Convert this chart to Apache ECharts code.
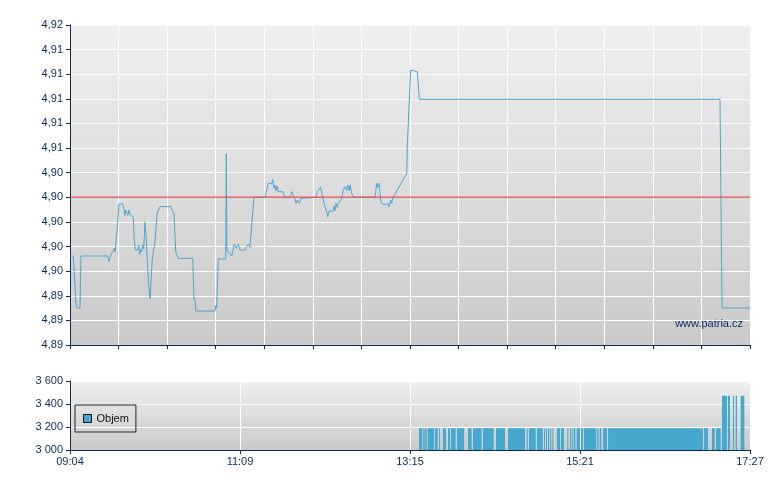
<!DOCTYPE html>
<html>
<head>
<meta charset="utf-8">
<script src="https://cdn.jsdelivr.net/npm/echarts@6/dist/echarts.min.js"></script>
<style>html,body{margin:0;padding:0;background:#fff}#c{width:780px;height:490px}</style>
</head>
<body>
<div id="c"></div>
<script>
// Minutes after 09:04 for each price point
const priceMin = [0,2.4,4.4,5.0,7.4,8.1,27.9,28.8,29.6,30.3,32.0,32.8,33.3,34.0,35.0,36.2,39.0,39.9,40.5,41.2,42.2,42.9,43.4,44.4,44.9,45.6,46.8,47.6,48.3,49.3,50.1,50.8,51.6,52.3,53.0,53.8,54.5,55.5,56.2,57.2,58.4,59.2,59.9,60.9,62.9,64.4,65.3,66.6,74.7,75.7,76.4,76.9,78.2,78.9,80.1,90.8,91.7,92.5,93.2,107.3,108.0,108.5,109.7,115.2,115.6,116.1,117.8,119.6,121.5,122.8,124.5,125.7,129.4,131.9,133.1,134.4,136.1,144.2,146.7,147.9,149.2,149.9,150.9,151.6,152.4,153.3,154.1,157.3,159.0,162.2,163.3,164.2,165.2,166.4,167.2,168.1,169.6,170.9,171.6,182.0,182.9,184.2,185.4,186.2,187.4,188.6,189.9,190.6,191.8,193.1,194.3,195.3,196.0,196.8,197.7,198.5,199.7,201.0,202.2,203.4,204.7,205.4,206.6,207.1,208.4,209.6,225.6,226.9,227.6,228.6,229.8,230.6,231.8,233.0,234.3,235.0,236.0,237.2,238.0,238.7,249.1,249.5,250.8,252.0,252.8,256.9,258.4,480.8,482.3,503];
const priceVal = [4.89723,4.89723,4.89349,4.89301,4.89301,4.89723,4.89723,4.89677,4.89704,4.89737,4.89764,4.89786,4.89758,4.89745,4.89951,4.90146,4.90146,4.90113,4.90051,4.90097,4.90097,4.90051,4.90097,4.90097,4.90056,4.90056,4.90038,4.89853,4.89772,4.89786,4.89772,4.89813,4.89737,4.8978,4.89758,4.89813,4.8978,4.89997,4.89894,4.89677,4.89463,4.89374,4.89514,4.89704,4.89839,4.9007,4.90078,4.90124,4.90124,4.90091,4.90105,4.9007,4.89758,4.89737,4.89704,4.89704,4.89379,4.89358,4.89276,4.89276,4.89325,4.89298,4.89699,4.89699,4.90552,4.89772,4.89745,4.89723,4.89821,4.89786,4.89821,4.89772,4.89772,4.89821,4.89794,4.89794,4.902,4.902,4.90314,4.90308,4.90308,4.90346,4.90273,4.903,4.90254,4.90292,4.90246,4.90246,4.902,4.902,4.90219,4.90246,4.90211,4.90192,4.90151,4.90178,4.90151,4.90192,4.902,4.902,4.90246,4.90259,4.90281,4.90246,4.90178,4.90124,4.90083,4.90042,4.90091,4.90097,4.90083,4.90129,4.90091,4.90151,4.90119,4.90151,4.90151,4.90192,4.90259,4.90286,4.90254,4.903,4.90254,4.903,4.90233,4.902,4.902,4.90314,4.90281,4.90314,4.90178,4.90151,4.90164,4.90138,4.90124,4.90151,4.90124,4.90178,4.90151,4.90192,4.90395,4.90617,4.90625,4.91234,4.91248,4.91221,4.90996,4.90996,4.89301,4.89301];
const refPrice = 4.902;

// Volume runs (minutes after 09:04)
const volFrom = [258.2,261.3,262.8,264.6,270.0,273.0,275.9,279.6,281.8,286.3,294.4,298.1,305.5,315.1,324.0,337.8,339.5,345.4,350.6,352.1,353.6,355.3,356.8,360.2,363.2,367.9,369.9,371.6,372.8,374.8,378.0,380.2,390.0,391.8,394.3,398.0,469.0,474.9,477.9,482.3,486.7,490.4,492.4,496.1];
const volTo   = [260.6,262.4,263.9,269.3,272.0,273.6,278.1,281.1,285.3,291.5,297.1,304.5,313.4,321.8,336.6,338.6,344.5,349.7,351.4,352.8,354.5,355.9,357.4,362.5,365.4,368.6,370.8,372.3,373.8,377.3,379.5,389.3,391.0,393.0,397.2,468.2,471.9,476.9,481.3,486.0,488.2,491.2,493.4,498.8];
const volValue = [3190,3190,3190,3190,3190,3190,3190,3190,3190,3190,3190,3190,3190,3190,3190,3190,3190,3190,3190,3190,3190,3190,3190,3190,3190,3190,3190,3190,3190,3190,3190,3190,3190,3190,3190,3190,3190,3190,3190,3472,3472,3472,3472,3472];

const startMinute = 9 * 60 + 4;
const totalMinutes = 503;

const navy = '#0b2a5b';
const font = 'Liberation Sans, Arial, sans-serif';

function timeLabel(m) {
  const t = Math.floor(startMinute + m + 1e-6);
  const h = Math.floor(t / 60), mm = t % 60;
  return String(h).padStart(2, '0') + ':' + String(mm).padStart(2, '0');
}

const chart = echarts.init(document.getElementById('c'), null, { renderer: 'canvas' });
const bg = new echarts.graphic.LinearGradient(0, 0, 0, 1, [
  { offset: 0, color: '#efefef' },
  { offset: 1, color: '#cacaca' }
]);

const priceData = priceMin.map((m, i) => [m, priceVal[i]]);
const refData = [[0, refPrice], [totalMinutes, refPrice]];
const volData = volFrom.map((f, i) => [f, volTo[i], volValue[i]]);

const axisCommon = {
  axisLine: { show: true, lineStyle: { color: navy, width: 1 } },
  axisTick: { show: true, length: 4, lineStyle: { color: navy } },
  splitLine: { show: true, lineStyle: { color: '#ffffff', width: 1 } },
  axisLabel: { color: navy, fontFamily: font, fontSize: 11 }
};

chart.setOption({
  animation: false,
  backgroundColor: '#ffffff',
  textStyle: { fontFamily: font },
  grid: [
    { left: 70, top: 25, width: 680, height: 320, show: true, backgroundColor: bg, borderWidth: 0 },
    { left: 70, top: 381, width: 680, height: 69, show: true, backgroundColor: bg, borderWidth: 0 }
  ],
  legend: {
    left: 75, top: 405,
    orient: 'horizontal',
    padding: [8, 7, 8, 8],
    borderColor: '#222', borderWidth: 1,
    itemWidth: 8, itemHeight: 8, itemGap: 5,
    textStyle: { color: '#111', fontFamily: font, fontSize: 11 },
    data: [{ name: 'Objem', icon: 'rect', itemStyle: { color: '#46a8cf', borderColor: '#111', borderWidth: 1 } }]
  },
  xAxis: [
    Object.assign({}, axisCommon, {
      type: 'value', gridIndex: 0, min: 0, max: totalMinutes, interval: totalMinutes / 14,
      axisLabel: { show: false }
    }),
    Object.assign({}, axisCommon, {
      type: 'value', gridIndex: 1, min: 0, max: totalMinutes, interval: totalMinutes / 4,
      axisLabel: { color: navy, fontFamily: font, fontSize: 11, margin: 6, formatter: v => timeLabel(v) }
    })
  ],
  yAxis: [
    Object.assign({}, axisCommon, {
      type: 'value', gridIndex: 0, min: 4.89, max: 4.916, interval: 0.002,
      axisLabel: { color: navy, fontFamily: font, fontSize: 11, margin: 7, formatter: v => v.toFixed(2).replace('.', ',') }
    }),
    Object.assign({}, axisCommon, {
      type: 'value', gridIndex: 1, min: 3000, max: 3600, interval: 200,
      axisLabel: { color: navy, fontFamily: font, fontSize: 11, margin: 7, formatter: v => String(v).replace(/\B(?=(\d{3})+(?!\d))/g, ' ') }
    })
  ],
  series: [
    {
      name: 'Cena', type: 'line', xAxisIndex: 0, yAxisIndex: 0,
      data: priceData, showSymbol: false, symbol: 'none',
      lineStyle: { color: '#4ba7d2', width: 1 },
      itemStyle: { color: '#4ba7d2' },
      z: 3
    },
    {
      name: 'Ref', type: 'line', xAxisIndex: 0, yAxisIndex: 0,
      data: refData, showSymbol: false, symbol: 'none', silent: true,
      lineStyle: { color: 'rgba(222,70,70,0.8)', width: 1.5 },
      z: 4
    },
    {
      name: 'Objem', type: 'custom', xAxisIndex: 1, yAxisIndex: 1,
      itemStyle: { color: '#46a8cf' },
      encode: { x: [0, 1], y: 2 },
      data: volData,
      renderItem: function (params, api) {
        const p0 = api.coord([api.value(0), api.value(2)]);
        const p1 = api.coord([api.value(1), 3000]);
        return {
          type: 'rect',
          shape: { x: p0[0], y: p0[1], width: Math.max(p1[0] - p0[0], 1), height: p1[1] - p0[1] },
          style: { fill: api.visual('color') }
        };
      }
    }
  ],
  graphic: [
    { type: 'text', right: 37, top: 318, style: { text: 'www.patria.cz', fill: navy, font: '11px ' + font } }
  ]
});
</script>
</body>
</html>
